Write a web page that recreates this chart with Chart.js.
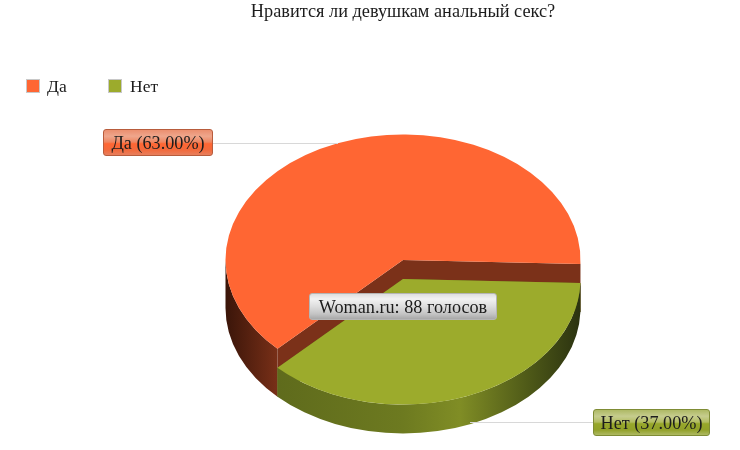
<!DOCTYPE html>
<html lang="ru">
<head>
<meta charset="utf-8">
<title>Опрос</title>
<script src="https://cdn.jsdelivr.net/npm/chart.js@4/dist/chart.umd.js"></script>
<style>
    html, body { margin: 0; padding: 0; background: #fff; }
    #wrap { position: relative; width: 740px; height: 450px; overflow: hidden;
            font-family: "Liberation Serif", serif; color: #1c1c1c; }
    canvas { position: absolute; left: 0; top: 0; }
    .title { position: absolute; left: 153px; width: 500px; top: 1px; text-align: center; font-size: 18.3px; line-height: 20px; }
    .swatch { position: absolute; top: 79px; width: 14px; height: 14px; border: 1px solid #c8c8c8; box-sizing: border-box; }
    .legend-text { position: absolute; top: 76px; font-size: 17.5px; line-height: 20px; }
    .leader { position: absolute; height: 1px; background: #d8d8d8; }
    .callout { position: absolute; box-sizing: border-box; height: 27px; line-height: 26px; text-align: center;
               font-size: 18.2px; border-radius: 3px; white-space: nowrap; }
    .c-orange { left: 103px; top: 129px; width: 110px; border: 1px solid #b85c3c;
                background: linear-gradient(#eb8f6f 0%, #efa68c 25%, #ee8661 48%, #ff6633 55%, #f26a3c 80%, #e77f5d 100%); }
    .c-green { left: 593px; top: 409px; width: 117px; border: 1px solid #7f8c35;
               background: linear-gradient(#aeb965 0%, #c6cd8e 25%, #b3bd62 48%, #97a72a 55%, #92a12a 80%, #aeb963 100%); }
    .c-grey { left: 309px; top: 293px; width: 188px; border: 1px solid #b5b5b5;
              background: linear-gradient(#dedede 0%, #f2f2f2 20%, #dddddd 50%, #c4c4c4 80%, #a8a8a8 100%); }
</style>
</head>
<body>
<div id="wrap">
    <canvas id="pieChart" width="740" height="450"></canvas>
    <div class="title" id="chartTitle"></div>
    <div id="legendBox"></div>
    <div class="leader" style="left:213px; top:143px; width:125px;"></div>
    <div class="leader" style="left:470px; top:422px; width:123px;"></div>
    <div class="callout c-orange" id="labelYes"></div>
    <div class="callout c-green" id="labelNo"></div>
    <div class="callout c-grey" id="labelVotes"></div>
</div>

<script>
// Chart data
const chartTitle = 'Нравится ли девушкам анальный секс?';
const categories = ['Да', 'Нет'];
const shares = [63, 37];
const votesSource = 'Woman.ru';
const votesTotal = 88;

// Colors
const topColors = ['#ff6633', '#9cab2c'];
const sideColors = ['#7b3119', '#5f6b1c'];

// Pie geometry on the page
const squash = 0.707;
const centerY = 260;
const sliceDrop = [0, 19];   // how far each slice top sits below the pie top
const sliceDepth = [48, 29];

// Gradient for the round outer wall of each slice
function wallGradient(ctx, i, cx, r) {
    const grad = ctx.createLinearGradient(cx - r, 0, cx + r, 0);
    if (i === 0) {
        grad.addColorStop(0, '#3a1509');
        grad.addColorStop(0.15, '#7a3018');
        grad.addColorStop(1, '#7a3018');
    } else {
        grad.addColorStop(0, '#5a661b');
        grad.addColorStop(0.15, '#5f6b1c');
        grad.addColorStop(0.5, '#6d7a20');
        grad.addColorStop(0.66, '#808d25');
        grad.addColorStop(0.85, '#4f5a18');
        grad.addColorStop(1, '#2b3210');
    }
    return grad;
}

// Draws the pie tilted, with side walls under every arc
const tiltedPie = {
    id: 'tiltedPie',
    beforeDatasetsDraw(chart) {
        const ctx = chart.ctx;
        chart.getDatasetMeta(0).data.forEach((arc, i) => {
            const cx = arc.x;
            const r = arc.outerRadius;
            const ry = r * squash;
            const top = centerY + sliceDrop[i];
            const bottom = top + sliceDepth[i];
            const a1 = arc.startAngle;
            const a2 = arc.endAngle;

            // straight walls at both cut edges
            ctx.fillStyle = sideColors[i];
            [a1, a2].forEach(a => {
                const ex = cx + r * Math.cos(a);
                const ey = ry * Math.sin(a);
                ctx.beginPath();
                ctx.moveTo(cx, top);
                ctx.lineTo(ex, top + ey);
                ctx.lineTo(ex, bottom + ey);
                ctx.lineTo(cx, bottom);
                ctx.closePath();
                ctx.fill();
            });

            // outer wall, only the part facing the viewer
            const turns = Math.floor(a1 / (2 * Math.PI));
            for (let k = turns; k <= turns + 1; k++) {
                const from = Math.max(a1, k * 2 * Math.PI);
                const to = Math.min(a2, k * 2 * Math.PI + Math.PI);
                if (to <= from) continue;
                ctx.fillStyle = wallGradient(ctx, i, cx, r);
                ctx.beginPath();
                ctx.ellipse(cx, top, r, ry, 0, from, to);
                ctx.ellipse(cx, bottom, r, ry, 0, to, from, true);
                ctx.closePath();
                ctx.fill();
            }

            // the top face is the library's own arc, squashed
            ctx.save();
            ctx.translate(0, top);
            ctx.scale(1, squash);
            ctx.translate(0, -arc.y);
            arc.draw(ctx);
            ctx.restore();
        });
        return false;
    }
};

new Chart(document.getElementById('pieChart'), {
    type: 'pie',
    data: {
        labels: categories,
        datasets: [{
            data: shares,
            backgroundColor: topColors,
            borderWidth: 0
        }]
    },
    options: {
        responsive: false,
        animation: false,
        rotation: 225,
        layout: { padding: { left: 225, right: 159, top: 47, bottom: 48 } },
        plugins: { legend: { display: false }, tooltip: { enabled: false } }
    },
    plugins: [tiltedPie]
});

// Text around the chart
document.getElementById('chartTitle').textContent = chartTitle;
document.getElementById('labelYes').textContent = `${categories[0]} (${shares[0].toFixed(2)}%)`;
document.getElementById('labelNo').textContent = `${categories[1]} (${shares[1].toFixed(2)}%)`;
document.getElementById('labelVotes').textContent = `${votesSource}: ${votesTotal} голосов`;

// Legend
const legendBox = document.getElementById('legendBox');
const legendSpots = [[26, 47], [108, 130]];
categories.forEach((name, i) => {
    legendBox.innerHTML += `
        <div class="swatch" style="left:${legendSpots[i][0]}px; background:${topColors[i]}"></div>
        <div class="legend-text" style="left:${legendSpots[i][1]}px">${name}</div>
    `;
});
</script>
</body>
</html>
